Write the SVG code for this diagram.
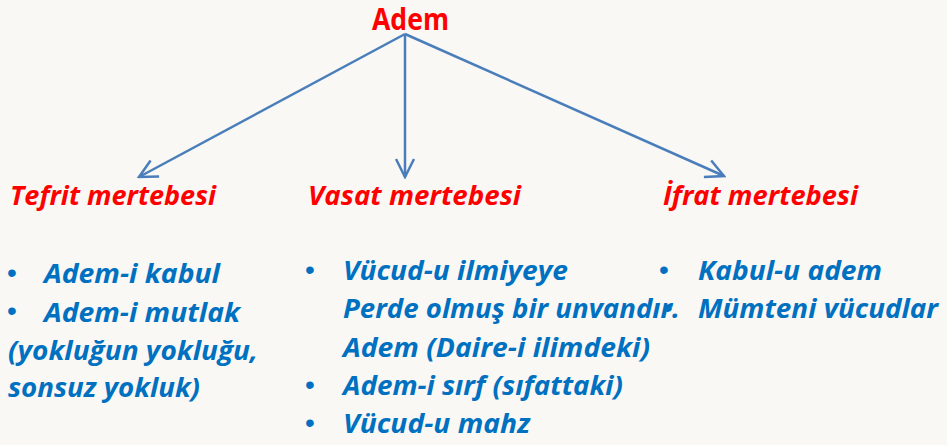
<svg xmlns="http://www.w3.org/2000/svg" width="947" height="445" viewBox="0 0 947 445">
<style>
.red{fill:#FF0000;font-family:"Open Sans","Liberation Sans",sans-serif;font-weight:bold;font-style:italic;font-size:27px}
.top{fill:#FF0000;font-family:"Open Sans","Liberation Sans",sans-serif;font-weight:bold;font-size:30px}
.blue{fill:#0070C0;font-family:"Open Sans","Liberation Sans",sans-serif;font-weight:bold;font-style:italic;font-size:27px}
.bul{fill:#0070C0;font-family:"Liberation Sans",sans-serif;font-size:28px}
.conn{stroke:#4A7EBB;stroke-width:2.5;fill:none}
</style>
<defs>
<marker id="ah" viewBox="0 0 22 22" refX="20" refY="11" markerWidth="22" markerHeight="22" markerUnits="userSpaceOnUse" orient="auto">
<path d="M2,2 L20,11 L2,20" fill="none" stroke="#4A7EBB" stroke-width="2.5"/>
</marker>
</defs>
<rect width="947" height="445" fill="#F9F8F5"/>
<g id="connectors">
<line class="conn" x1="405" y1="34" x2="139" y2="177" marker-end="url(#ah)"/>
<line class="conn" x1="405" y1="34" x2="405" y2="177" marker-end="url(#ah)"/>
<line class="conn" x1="405" y1="34" x2="724" y2="176" marker-end="url(#ah)"/>
</g>
<g id="adem">
<text class="top" x="372" y="30" textLength="77" lengthAdjust="spacingAndGlyphs">Adem</text>
</g>
<g id="tefrit">
<text class="red" x="10" y="205" textLength="206" lengthAdjust="spacingAndGlyphs">Tefrit mertebesi</text>
<text class="bul" x="7" y="282">•</text>
<text class="blue" x="44" y="283" textLength="176" lengthAdjust="spacingAndGlyphs">Adem-i kabul</text>
<text class="bul" x="7" y="320">•</text>
<text class="blue" x="44" y="322" textLength="196" lengthAdjust="spacingAndGlyphs">Adem-i mutlak</text>
<text class="blue" x="8" y="360" textLength="250" lengthAdjust="spacingAndGlyphs">(yokluğun yokluğu,</text>
<text class="blue" x="8" y="397" textLength="192" lengthAdjust="spacingAndGlyphs">sonsuz yokluk)</text>
</g>
<g id="vasat">
<text class="red" x="308" y="205" textLength="213" lengthAdjust="spacingAndGlyphs">Vasat mertebesi</text>
<text class="bul" x="305" y="279">•</text>
<text class="blue" x="343" y="280" textLength="225" lengthAdjust="spacingAndGlyphs">Vücud-u ilmiyeye</text>
<text class="blue" x="343" y="318" textLength="337" lengthAdjust="spacingAndGlyphs">Perde olmuş bir unvandır.</text>
<text class="blue" x="343" y="357" textLength="307" lengthAdjust="spacingAndGlyphs">Adem (Daire-i ilimdeki)</text>
<text class="bul" x="305" y="394">•</text>
<text class="blue" x="343" y="395" textLength="280" lengthAdjust="spacingAndGlyphs">Adem-i sırf (sıfattaki)</text>
<text class="bul" x="305" y="432">•</text>
<text class="blue" x="343" y="433" textLength="187" lengthAdjust="spacingAndGlyphs">Vücud-u mahz</text>
</g>
<g id="ifrat">
<text class="red" x="663" y="205" textLength="195" lengthAdjust="spacingAndGlyphs">İfrat mertebesi</text>
<text class="bul" x="659" y="279">•</text>
<text class="blue" x="698" y="280" textLength="184" lengthAdjust="spacingAndGlyphs">Kabul-u adem</text>
<text class="bul" x="663" y="317">•</text>
<text class="blue" x="698" y="318" textLength="240" lengthAdjust="spacingAndGlyphs">Mümteni vücudlar</text>
</g>
</svg>
